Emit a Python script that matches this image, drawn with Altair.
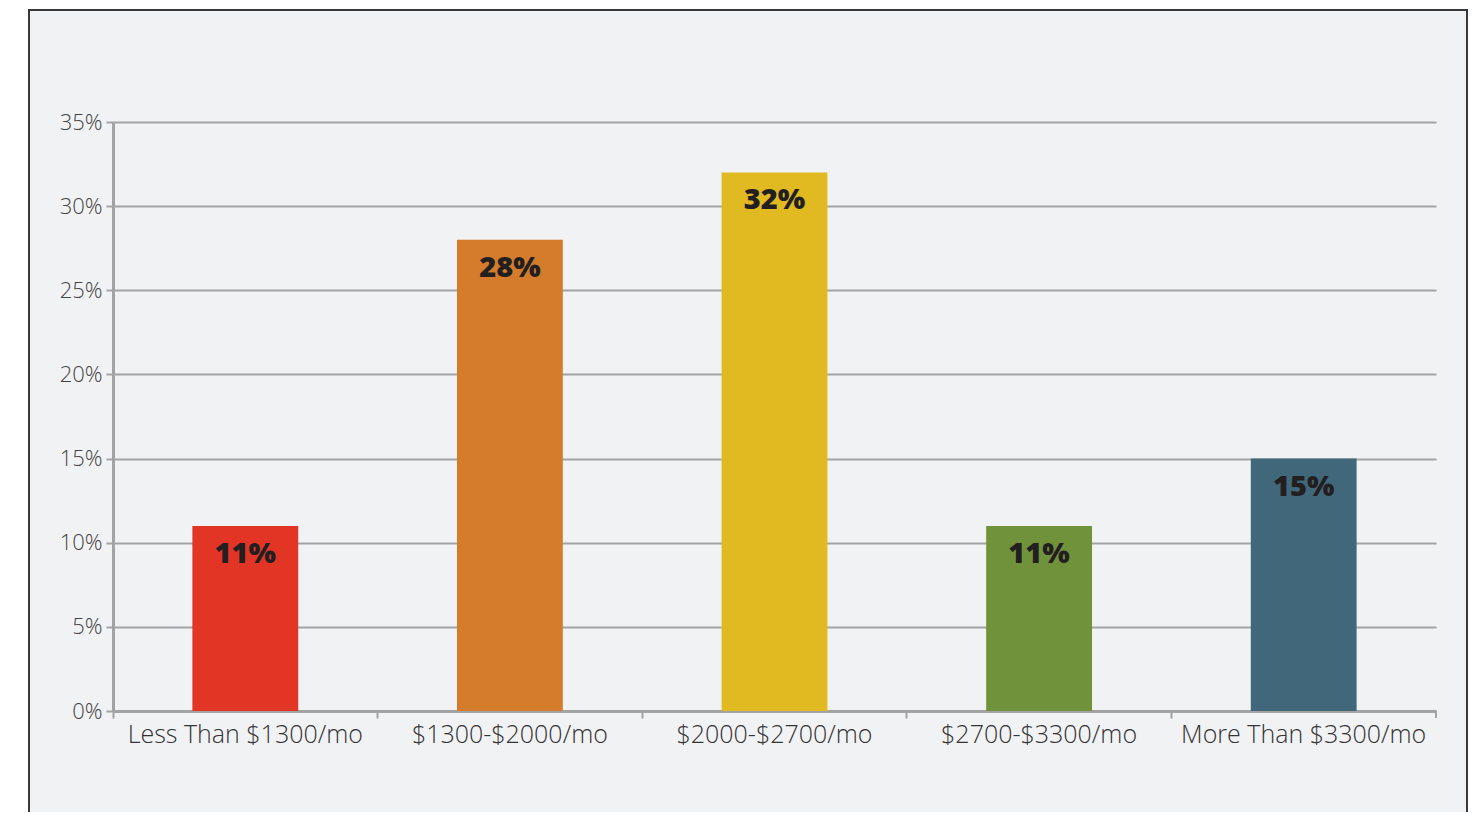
import altair as alt
import pandas as pd

categories = ["Less Than $1300/mo", "$1300-$2000/mo", "$2000-$2700/mo", "$2700-$3300/mo", "More Than $3300/mo"]
values = [0.11, 0.28, 0.32, 0.11, 0.15]
labels = ["11%", "28%", "32%", "11%", "15%"]
colors = ["#e33526", "#d47c2c", "#e1b921", "#70923b", "#41687a"]

df = pd.DataFrame({"cat": categories, "val": values, "label": labels})

W, H = 1323, 589
GRAY = "#a3a3a3"
FONT = "Open Sans"

x_enc = alt.X("cat:N", sort=categories,
              scale=alt.Scale(paddingInner=0, paddingOuter=0),
              axis=alt.Axis(title=None, labelAngle=0, labelFont=FONT, labelFontWeight=300,
                            labelFontSize=25, labelColor="#333333", labelPadding=4, labelLimit=0,
                            tickColor=GRAY, tickWidth=2, tickSize=7, bandPosition=0,
                            domainColor=GRAY, domainWidth=3, grid=False))
y_enc = alt.Y("val:Q", scale=alt.Scale(domain=[0, 0.35]),
              axis=alt.Axis(title=None, format=".0%", values=[0, 0.05, 0.1, 0.15, 0.2, 0.25, 0.3, 0.35],
                            labelFont=FONT, labelFontWeight=300, labelFontSize=22,
                            labelColor="#444444", labelPadding=4,
                            tickColor=GRAY, tickWidth=2, tickSize=7,
                            domainColor=GRAY, domainWidth=3,
                            grid=True, gridColor=GRAY, gridWidth=2))

bars = alt.Chart(df).mark_bar(width=alt.RelativeBandSize(0.4)).encode(
    x=x_enc, y=y_enc,
    color=alt.Color("cat:N", sort=categories, scale=alt.Scale(domain=categories, range=colors), legend=None),
)

text = alt.Chart(df).mark_text(font=FONT, fontWeight=800, fontSize=29, color="#231f20",
                               baseline="middle", dy=28).encode(
    x=alt.X("cat:N", sort=categories), y="val:Q", text="label:N")

base = alt.Chart(df.head(1))
border = base.mark_rect(filled=False, stroke="#3a3a3a", strokeWidth=2, clip=False).encode(
    x=alt.value(-84), x2=alt.value(1354), y=alt.value(-112), y2=alt.value(720))
white_left = base.mark_rect(color="white", clip=False).encode(
    x=alt.value(-110), x2=alt.value(-85), y=alt.value(-120), y2=alt.value(720))
white_top = base.mark_rect(color="white", clip=False).encode(
    x=alt.value(-110), x2=alt.value(1370), y=alt.value(-120), y2=alt.value(-113))
white_right = base.mark_rect(color="white", clip=False).encode(
    x=alt.value(1355), x2=alt.value(1370), y=alt.value(-120), y2=alt.value(720))
end_tick = base.mark_rule(color=GRAY, strokeWidth=2, clip=False).encode(
    x=alt.value(W), y=alt.value(H), y2=alt.value(H + 7))

chart = alt.layer(white_left, white_top, white_right, border, bars, text, end_tick).properties(
    width=W, height=H,
    background="#f1f2f4",
    padding={"left": 105, "top": 114, "right": 36, "bottom": 101},
    autosize=alt.AutoSizeParams(type="none"),
).configure_view(stroke=None)

chart.save("out.html", embed_options={"renderer": "svg", "actions": False})
